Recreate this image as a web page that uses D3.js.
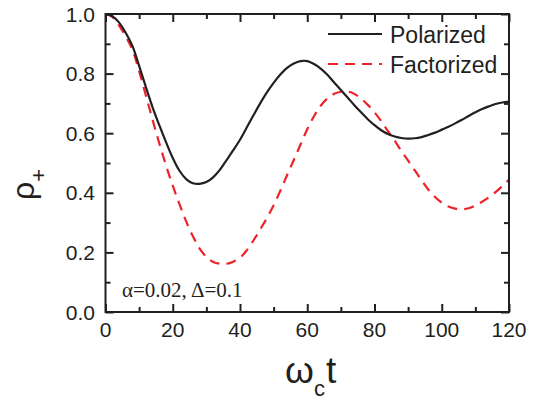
<!DOCTYPE html>
<html>
<head>
<meta charset="utf-8">
<script src="https://cdn.jsdelivr.net/npm/d3@7"></script>
<style>
  html, body { margin: 0; padding: 0; background: #fff; }
  svg { display: block; }
  text { font-family: "Liberation Sans", Arial, sans-serif; fill: #231f20; }
  text.serif { font-family: "Liberation Serif", "Times New Roman", serif; }
</style>
</head>
<body>
<svg id="chart" width="544" height="406"></svg>
<script>
// Time axis samples (ω_c t)
const times = [0, 2, 4, 6, 8, 10, 12, 14, 16, 18, 20, 22, 24, 26, 28, 30, 32, 34, 36, 38,
  40, 42, 44, 46, 48, 50, 52, 54, 56, 58, 60, 62, 64, 66, 68, 70, 72, 74, 76, 78,
  80, 82, 84, 86, 88, 90, 92, 94, 96, 98, 100, 102, 104, 106, 108, 110, 112, 114, 116, 118, 120];

// ρ+ for the polarized initial state
const polarized = [1.0, 0.993, 0.972, 0.937, 0.893, 0.826, 0.755, 0.687, 0.627, 0.570,
  0.517, 0.474, 0.446, 0.432, 0.430, 0.436, 0.452, 0.477, 0.510, 0.543,
  0.578, 0.619, 0.660, 0.700, 0.737, 0.769, 0.797, 0.819, 0.834, 0.842,
  0.842, 0.832, 0.817, 0.796, 0.770, 0.745, 0.720, 0.694, 0.670, 0.647,
  0.627, 0.610, 0.597, 0.589, 0.584, 0.582, 0.583, 0.587, 0.594, 0.602,
  0.612, 0.622, 0.633, 0.645, 0.658, 0.670, 0.681, 0.690, 0.698, 0.703, 0.706];

// ρ+ for the factorized initial state
const factorized = [1.0, 0.990, 0.962, 0.925, 0.880, 0.808, 0.727, 0.645, 0.566, 0.492,
  0.424, 0.362, 0.304, 0.254, 0.213, 0.185, 0.168, 0.162, 0.162, 0.169,
  0.182, 0.207, 0.240, 0.277, 0.315, 0.358, 0.407, 0.459, 0.510, 0.562,
  0.613, 0.657, 0.692, 0.717, 0.732, 0.739, 0.740, 0.732, 0.716, 0.695,
  0.670, 0.640, 0.607, 0.575, 0.540, 0.508, 0.475, 0.442, 0.411, 0.386,
  0.367, 0.354, 0.347, 0.345, 0.348, 0.357, 0.370, 0.385, 0.402, 0.422, 0.445];

const xTicks = [0, 20, 40, 60, 80, 100, 120];
const xMinor = [10, 30, 50, 70, 90, 110];
const yTicks = [0.0, 0.2, 0.4, 0.6, 0.8, 1.0];
const yMinor = [0.1, 0.3, 0.5, 0.7, 0.9];

const seriesNames = ["Polarized", "Factorized"];

const svg = d3.select("#chart");
const plotLeft = 105.5, plotRight = 509, plotTop = 14, plotBottom = 312;

const x = d3.scaleLinear().domain([0, 120]).range([plotLeft, plotRight]);
const y = d3.scaleLinear().domain([0, 1.0]).range([plotBottom, plotTop]);

const ink = "#231f20";
const red = "#ee2228";

// Curves
const line = d3.line().x(d => x(d[0])).y(d => y(d[1])).curve(d3.curveCatmullRom.alpha(0.5));

svg.append("path")
  .datum(times.map((t, i) => [t, factorized[i]]))
  .attr("d", line)
  .attr("fill", "none")
  .attr("stroke", red)
  .attr("stroke-width", 2.2)
  .attr("stroke-dasharray", "10,7");

svg.append("path")
  .datum(times.map((t, i) => [t, polarized[i]]))
  .attr("d", line)
  .attr("fill", "none")
  .attr("stroke", ink)
  .attr("stroke-width", 2.2);

// Frame
svg.append("rect")
  .attr("x", plotLeft).attr("y", plotTop)
  .attr("width", plotRight - plotLeft).attr("height", plotBottom - plotTop)
  .attr("fill", "none").attr("stroke", ink).attr("stroke-width", 2);

// Inward ticks on all four sides
const majorLen = 8, minorLen = 5;
function inward(axisGen, values, len, tx, ty) {
  const g = svg.append("g").attr("transform", `translate(${tx},${ty})`)
    .call(axisGen.tickValues(values).tickSize(-len).tickFormat(""));
  g.select(".domain").remove();
  g.selectAll(".tick line").attr("stroke", ink).attr("stroke-width", 2);
  return g;
}
inward(d3.axisBottom(x), xTicks, majorLen, 0, plotBottom);
inward(d3.axisBottom(x), xMinor, minorLen, 0, plotBottom);
inward(d3.axisTop(x), xTicks, majorLen, 0, plotTop);
inward(d3.axisTop(x), xMinor, minorLen, 0, plotTop);
inward(d3.axisLeft(y), yTicks, majorLen, plotLeft, 0);
inward(d3.axisLeft(y), yMinor, minorLen, plotLeft, 0);
inward(d3.axisRight(y), yTicks, majorLen, plotRight, 0);
inward(d3.axisRight(y), yMinor, minorLen, plotRight, 0);

// Tick labels
svg.append("g").selectAll("text").data(xTicks).join("text")
  .attr("x", d => x(d)).attr("y", 337)
  .attr("text-anchor", "middle")
  .attr("font-size", 21)
  .text(d => d);

svg.append("g").selectAll("text").data(yTicks).join("text")
  .attr("x", 95).attr("y", d => y(d) + 7.5)
  .attr("text-anchor", "end")
  .attr("font-size", 21)
  .text(d => d.toFixed(1));

// Axis titles
const xt = svg.append("text").attr("x", 285).attr("y", 383).attr("font-size", 37);
xt.append("tspan").text("ω");
xt.append("tspan").attr("font-size", 22).attr("dy", 13).text("c");
xt.append("tspan").attr("dy", -13).attr("dx", 1).text("t");

const yt = svg.append("text").attr("transform", "translate(34,200) rotate(-90)").attr("font-size", 32);
yt.append("tspan").text("ρ");
yt.append("tspan").attr("font-size", 22).attr("dy", 12).text("+");

// Legend
const legend = svg.append("g");
const legendStyles = [{ stroke: ink, dash: null }, { stroke: red, dash: "10,7" }];
seriesNames.forEach((name, i) => {
  const ly = 34 + i * 30;
  legend.append("line")
    .attr("x1", 328).attr("x2", 382).attr("y1", ly).attr("y2", ly)
    .attr("stroke", legendStyles[i].stroke).attr("stroke-width", 2.2)
    .attr("stroke-dasharray", legendStyles[i].dash);
  legend.append("text")
    .attr("x", 390).attr("y", ly + 9)
    .attr("font-size", 23)
    .text(name);
});

// Parameter annotation
svg.append("text")
  .attr("class", "serif")
  .attr("x", 122).attr("y", 297)
  .attr("font-size", 21)
  .text("α=0.02, Δ=0.1");
</script>
</body>
</html>
